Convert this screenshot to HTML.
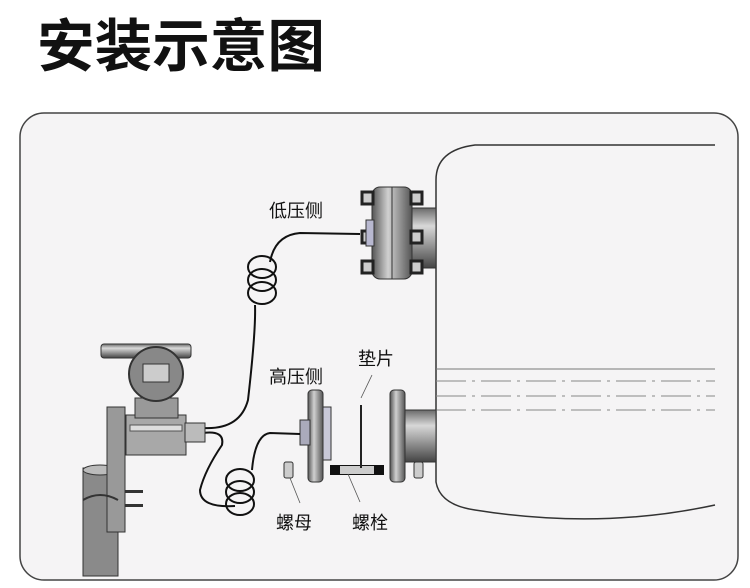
<!DOCTYPE html>
<html><head><meta charset="utf-8"><style>
html,body{margin:0;padding:0;background:#fff;width:750px;height:588px;overflow:hidden}
</style></head><body>
<svg width="750" height="588" viewBox="0 0 750 588" xmlns="http://www.w3.org/2000/svg" font-family="Liberation Sans, Noto Sans CJK SC, sans-serif">
<defs>
<linearGradient id="gv" x1="0" y1="0" x2="0" y2="1"><stop offset="0" stop-color="#6a6a6a"/><stop offset=".3" stop-color="#d8d8d8"/><stop offset=".6" stop-color="#9a9a9a"/><stop offset="1" stop-color="#444"/></linearGradient>
<linearGradient id="gh" x1="0" y1="0" x2="1" y2="0"><stop offset="0" stop-color="#555"/><stop offset=".4" stop-color="#d0d0d0"/><stop offset="1" stop-color="#555"/></linearGradient>
</defs>
<text x="37" y="66" font-size="57" font-weight="bold" fill="#111" font-family="Noto Sans CJK SC, sans-serif" textLength="288" lengthAdjust="spacingAndGlyphs">安装示意图</text>
<rect x="20" y="113" width="718" height="467" rx="24" fill="#f5f4f5" stroke="#444" stroke-width="1.5"/>
<!-- vessel -->
<path d="M715 145 L475 145 Q436 150 436 180 L436 482 Q440 505 475 510 Q600 530 715 505" fill="none" stroke="#333" stroke-width="1.5"/>
<line x1="436" y1="369" x2="715" y2="369" stroke="#777" stroke-width="1"/>
<g stroke="#888" stroke-width="1" stroke-dasharray="30,6,3,6">
<line x1="436" y1="381" x2="715" y2="381"/><line x1="436" y1="396" x2="715" y2="396"/><line x1="436" y1="410" x2="715" y2="410"/></g>
<!-- low flange -->
<rect x="410" y="208" width="26" height="60" fill="url(#gv)" stroke="#333"/>
<rect x="372" y="187" width="40" height="92" rx="8" fill="url(#gh)" stroke="#333"/>
<line x1="392" y1="187" x2="392" y2="279" stroke="#333"/>
<g fill="#ccc" stroke="#222" stroke-width="3">
<rect x="362" y="192" width="11" height="12"/><rect x="362" y="231" width="11" height="12"/><rect x="362" y="261" width="11" height="12"/>
<rect x="411" y="192" width="11" height="12"/><rect x="411" y="231" width="11" height="12"/><rect x="411" y="261" width="11" height="12"/></g>
<rect x="366" y="220" width="8" height="26" fill="#b8b8d0" stroke="#333"/>
<!-- high side flanges -->
<rect x="322" y="407" width="9" height="53" fill="#c8c8d8" stroke="#333"/>
<rect x="308" y="390" width="15" height="92" rx="4" fill="url(#gh)" stroke="#333"/>
<rect x="300" y="420" width="10" height="25" fill="#aab" stroke="#333"/>
<rect x="404" y="410" width="32" height="52" fill="url(#gv)" stroke="#333"/>
<rect x="390" y="390" width="15" height="92" rx="4" fill="url(#gh)" stroke="#333"/>
<rect x="330" y="465" width="54" height="10" fill="#111"/>
<rect x="340" y="466" width="34" height="8" fill="#ccc"/>
<line x1="361" y1="405" x2="361" y2="468" stroke="#222" stroke-width="2"/>
<rect x="284" y="462" width="9" height="16" rx="2" fill="#ccc" stroke="#333"/>
<rect x="414" y="462" width="9" height="16" rx="2" fill="#ccc" stroke="#333"/>
<g stroke="#555" stroke-width=".8"><line x1="361" y1="398" x2="372" y2="375"/><line x1="290" y1="478" x2="300" y2="503"/><line x1="348" y1="474" x2="360" y2="502"/></g>
<!-- tubes -->
<g fill="none" stroke="#111" stroke-width="2">
<path d="M203 428 Q240 430 248 400 Q256 330 255 305"/>
<path d="M270 262 Q275 235 300 233 L360 234"/>
<ellipse cx="262" cy="267" rx="14" ry="11"/><ellipse cx="262" cy="280" rx="14" ry="11"/><ellipse cx="262" cy="293" rx="14" ry="11"/>
<path d="M203 433 Q225 430 222 445 Q205 470 200 490 Q200 508 235 506"/>
<path d="M252 470 Q255 435 270 433 L300 434"/>
<ellipse cx="240" cy="480" rx="14" ry="11"/><ellipse cx="240" cy="492" rx="14" ry="11"/><ellipse cx="240" cy="504" rx="14" ry="11"/>
</g>
<!-- transmitter -->
<rect x="83" y="468" width="35" height="108" fill="#8a8a8a" stroke="#333"/>
<ellipse cx="100" cy="470" rx="17" ry="5" fill="#bbb" stroke="#333"/>
<rect x="107" y="407" width="18" height="125" fill="#999" stroke="#333"/>
<path d="M83 500 Q100 490 118 500" fill="none" stroke="#333" stroke-width="2"/>
<g fill="#333"><rect x="125" y="490" width="18" height="3"/><rect x="125" y="504" width="18" height="3"/></g>
<rect x="126" y="415" width="60" height="40" fill="#a8a8a8" stroke="#333"/>
<rect x="130" y="425" width="52" height="6" fill="#ddd" stroke="#555"/>
<rect x="185" y="423" width="20" height="19" fill="#bbb" stroke="#333"/>
<rect x="135" y="398" width="43" height="20" fill="#999" stroke="#333"/>
<rect x="101" y="344" width="90" height="14" rx="3" fill="url(#gv)" stroke="#333"/>
<circle cx="156" cy="374" r="27" fill="#888" stroke="#333" stroke-width="2"/>
<rect x="143" y="364" width="26" height="18" fill="#ccc" stroke="#333"/>
<!-- labels -->
<g font-size="18" fill="#111" font-family="Noto Sans CJK SC, sans-serif">
<text x="269" y="217">低压侧</text><text x="269" y="383">高压侧</text><text x="358" y="365">垫片</text>
<text x="276" y="529">螺母</text><text x="352" y="529">螺栓</text></g>
</svg>
</body></html>
